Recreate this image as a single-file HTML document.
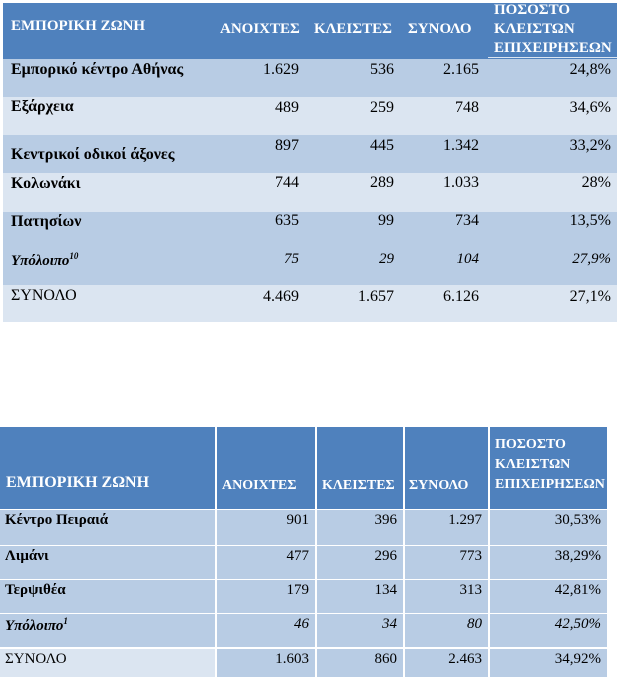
<!DOCTYPE html>
<html><head><meta charset="utf-8"><style>
body{margin:0;width:617px;height:677px;background:#fff;position:relative;overflow:hidden;font-family:"Liberation Serif","DejaVu Serif",serif;}
.a{position:absolute;}
.t{position:absolute;white-space:nowrap;font-size:16px;color:#000;}
.h{position:absolute;white-space:nowrap;font-size:15px;color:#fff;font-weight:bold;}
.r{text-align:right;}
.b{font-weight:bold}.i{font-style:italic}
</style></head><body>
<!-- table 1 -->
<div class="a" style="left:3px;top:3px;width:614px;height:56px;background:#4f81bd"></div>
<div class="a" style="left:3px;top:59px;width:614px;height:38px;background:#b8cce4"></div>
<div class="a" style="left:3px;top:97px;width:614px;height:38px;background:#dbe5f1"></div>
<div class="a" style="left:3px;top:135px;width:614px;height:38px;background:#b8cce4"></div>
<div class="a" style="left:3px;top:173px;width:614px;height:39px;background:#dbe5f1"></div>
<div class="a" style="left:3px;top:212px;width:614px;height:73px;background:#b8cce4"></div>
<div class="a" style="left:3px;top:285px;width:614px;height:37px;background:#dbe5f1"></div>
<div class="a" style="left:488px;top:57px;width:129px;height:1px;background:#dbe5f1"></div>
<div class="h" style="left:11px;top:18px">ΕΜΠΟΡΙΚΗ ΖΩΝΗ</div>
<div class="h" style="left:220px;top:21px">ΑΝΟΙΧΤΕΣ</div>
<div class="h" style="left:314px;top:21px">ΚΛΕΙΣΤΕΣ</div>
<div class="h" style="left:408px;top:21px">ΣΥΝΟΛΟ</div>
<div class="h" style="left:494px;top:1px;line-height:19px">ΠΟΣΟΣΤΟ<br>ΚΛΕΙΣΤΩΝ<br>ΕΠΙΧΕΙΡΗΣΕΩΝ</div>
<div class="t b" style="left:11px;top:61px">Εμπορικό κέντρο Αθήνας</div>
<div class="t b" style="left:11px;top:98px">Εξάρχεια</div>
<div class="t b" style="left:11px;top:146px">Κεντρικοί οδικοί άξονες</div>
<div class="t b" style="left:11px;top:175px">Κολωνάκι</div>
<div class="t b" style="left:11px;top:213px">Πατησίων</div>
<div class="t b i" style="left:11px;top:251px;font-size:15px">Υπόλοιπο<sup style="font-size:9px">10</sup></div>
<div class="t" style="left:11px;top:287px">ΣΥΝΟΛΟ</div>
<div class="t r" style="right:318px;top:61px;line-height:18.9px">1.629<br><br>489<br><br>897<br><br>744<br><br>635<br><br><i style="font-size:15px">75</i><br><br>4.469</div>
<div class="t r" style="right:223px;top:61px;line-height:18.9px">536<br><br>259<br><br>445<br><br>289<br><br>99<br><br><i style="font-size:15px">29</i><br><br>1.657</div>
<div class="t r" style="right:138px;top:61px;line-height:18.9px">2.165<br><br>748<br><br>1.342<br><br>1.033<br><br>734<br><br><i style="font-size:15px">104</i><br><br>6.126</div>
<div class="t r" style="right:6px;top:61px;line-height:18.9px">24,8%<br><br>34,6%<br><br>33,2%<br><br>28%<br><br>13,5%<br><br><i style="font-size:15px">27,9%</i><br><br>27,1%</div>
<!-- table 2 -->
<div class="a" style="left:0;top:427px;width:215px;height:82px;background:#4f81bd"></div>
<div class="a" style="left:217px;top:427px;width:98px;height:82px;background:#4f81bd"></div>
<div class="a" style="left:317px;top:427px;width:86px;height:82px;background:#4f81bd"></div>
<div class="a" style="left:405px;top:427px;width:83px;height:82px;background:#4f81bd"></div>
<div class="a" style="left:490px;top:427px;width:117px;height:82px;background:#4f81bd"></div>
<div class="h" style="left:6px;top:474px;font-size:16px">ΕΜΠΟΡΙΚΗ ΖΩΝΗ</div>
<div class="h" style="left:222px;top:478px;font-size:14px">ΑΝΟΙΧΤΕΣ</div>
<div class="h" style="left:322px;top:478px;font-size:14px">ΚΛΕΙΣΤΕΣ</div>
<div class="h" style="left:409px;top:478px;font-size:14px">ΣΥΝΟΛΟ</div>
<div class="h" style="left:495px;top:435px;font-size:14px;line-height:20px">ΠΟΣΟΣΤΟ<br>ΚΛΕΙΣΤΩΝ<br>ΕΠΙΧΕΙΡΗΣΕΩΝ</div>
<div id="rows"></div>
<script>
var ys=[510,546,580,614,649],hs=[35,33,33,33,28];
var d=[["Κέντρο Πειραιά","901","396","1.297","30,53%"],["Λιμάνι","477","296","773","38,29%"],["Τερψιθέα","179","134","313","42,81%"],["Υπόλοιπο<sup style='font-size:9px'>1</sup>","46","34","80","42,50%"],["ΣΥΝΟΛΟ","1.603","860","2.463","34,92%"]];
var cx=[[0,215],[217,98],[317,86],[405,83],[490,117]];
var h="";
for(var r=0;r<5;r++){for(var c=0;c<5;c++){var bg=(r==4&&c==0)?"#dbe5f1":"#b8cce4";
h+='<div class="a" style="left:'+cx[c][0]+'px;top:'+ys[r]+'px;width:'+cx[c][1]+'px;height:'+hs[r]+'px;background:'+bg+'"></div>';
var st=(r<4&&c==0?"font-weight:bold;":"")+(r==3?"font-style:italic;":"");
if(c==0)h+='<div class="t" style="left:5px;top:'+(ys[r]+2)+'px;font-size:15px;'+st+'">'+d[r][c]+'</div>';
else h+='<div class="t" style="left:'+cx[c][0]+'px;width:'+(cx[c][1]-6)+'px;text-align:right;top:'+(ys[r]+2)+'px;font-size:15px;'+st+'">'+d[r][c]+'</div>';}}
document.getElementById("rows").innerHTML=h;
</script>
</body></html>
